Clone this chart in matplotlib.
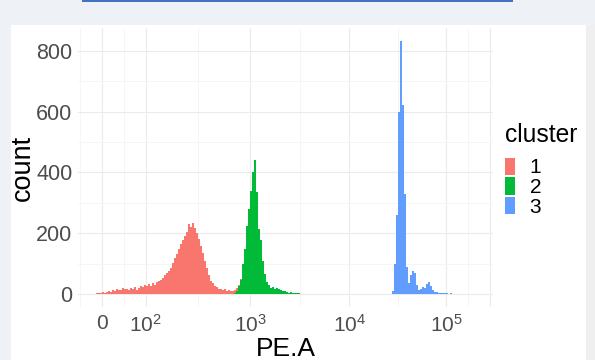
import numpy as np
import matplotlib
matplotlib.use("Agg")
import matplotlib.pyplot as plt
from matplotlib.patches import Rectangle, Patch

plt.rcParams['font.family'] = ['Liberation Sans', 'DejaVu Sans']
plt.rcParams['mathtext.fontset'] = 'custom'
plt.rcParams['mathtext.rm'] = 'Liberation Sans'

# ---- data: histogram counts on the transformed (biexponential) PE.A axis ----
BIN = 0.02                      # bin width in transformed units
RED_START, GREEN_START, BLUE_START = -0.06, 1.32, 2.58

red_counts = [3, 5, 4, 8, 6, 9, 12, 8, 15, 11, 19, 13, 14, 22, 16, 18, 13, 20,
              17, 23, 15, 21, 27, 24, 30, 26, 33, 29, 36, 31, 40, 44, 48, 55,
              62, 70, 76, 88, 104, 118, 131, 150, 165, 178, 192, 205, 232, 222,
              235, 218, 200, 180, 160, 135, 108, 85, 62, 45, 36, 28, 24, 18, 16,
              14, 17, 12, 14, 11, 12, 9, 8, 6, 4]
green_counts = [4, 12, 26, 48, 100, 150, 225, 280, 340, 400, 440, 335, 215,
                178, 110, 66, 40, 30, 22, 24, 19, 20, 16, 14, 12, 10, 8, 6, 7,
                5, 4, 3, 4, 2, 2, 1, 1, 0, 1, 0, 1, 0, 0, 1, 0, 1, 0, 1]
blue_counts = [0, 0, 1, 0, 0, 0, 1, 0, 1, 0, 0, 1, 0, 1, 0, 1,
               12, 100, 260, 600, 830, 620, 330, 90, 38, 64, 78, 70, 30, 14,
               18, 25, 22, 34, 41, 26, 14, 9, 7, 6, 4, 5, 3, 4, 2, 3, 2, 2, 1,
               2, 1, 1, 0, 1, 1, 0, 1]

clusters = ['1', '2', '3']
colors = ['#F8766D', '#00BA38', '#619CFF']

xtick_pos = [0.0, 0.44, 1.483, 2.476, 3.443, 3.883]
xtick_labels = ['0', r'$\mathregular{10^2}$', r'$\mathregular{10^3}$',
                r'$\mathregular{10^4}$', r'$\mathregular{10^5}$', '']
yticks = [0, 200, 400, 600, 800]

# ---- common bin grid + stacking (ggplot: group 1 on top) ---------------------
n = int(round((BLUE_START - RED_START) / BIN)) + len(blue_counts)
edges = RED_START + BIN * np.arange(n + 1)
grid = np.zeros((3, n))
for k, (start, cnt) in enumerate([(RED_START, red_counts),
                                  (GREEN_START, green_counts),
                                  (BLUE_START, blue_counts)]):
    i0 = int(round((start - RED_START) / BIN))
    grid[k, i0:i0 + len(cnt)] = cnt

fig = plt.figure(figsize=(5.95, 3.6), dpi=100, facecolor='#eef2f6')
W, H = 595, 360
fig.patches.append(Rectangle((11 / W, 0), 575 / W, 335 / H, transform=fig.transFigure,
                             facecolor='white', edgecolor='none', zorder=-10))
fig.patches.append(Rectangle((586 / W, 0), 9 / W, 335 / H, transform=fig.transFigure,
                             facecolor='#efefef', edgecolor='none', zorder=-10))
fig.patches.append(Rectangle((82 / W, 358 / H), 431 / W, 2 / H, transform=fig.transFigure,
                             facecolor='#4472c4', edgecolor='none', zorder=-10))

ax = fig.add_axes([78 / W, 53 / H, 415 / W, 279 / H])
ax.set_facecolor('none')

bottom = np.zeros(n)
for k in [2, 1, 0]:
    top = bottom + grid[k]
    ax.stairs(top, edges, baseline=bottom.copy(), fill=True,
              color=colors[k], linewidth=0, zorder=3)
    bottom = top

# grid lines (theme_minimal look)
xminor = [xtick_pos[0] - (xtick_pos[1] - xtick_pos[0]) / 2] + \
         list((np.array(xtick_pos[:-1]) + np.array(xtick_pos[1:])) / 2)
ax.set_xticks(xtick_pos)
ax.set_xticklabels(xtick_labels)
ax.set_xticks(xminor, minor=True)
ax.set_yticks(yticks)
ax.set_yticks([100, 300, 500, 700], minor=True)
ax.grid(True, which='major', color='#ebebeb', linewidth=0.8, zorder=0)
ax.grid(True, which='minor', color='#f4f4f4', linewidth=0.6, zorder=0)
ax.set_axisbelow(True)
ax.tick_params(which='both', length=0)
ax.tick_params(axis='y', labelsize=15.5, labelcolor='#4d4d4d', pad=4)
ax.tick_params(axis='x', labelsize=15, labelcolor='#4d4d4d', pad=5)
for s in ax.spines.values():
    s.set_visible(False)

ax.set_xlim(-0.237, 3.913)
ax.set_ylim(-41.5, 874)
ax.set_xlabel('PE.A', fontsize=19, va='baseline')
ax.xaxis.set_label_coords(0.5, -49 / 279)
ax.set_ylabel('count', fontsize=19.5, labelpad=0.5)

fig.text(505 / W, 1 - 142 / H, 'cluster', fontsize=17.7, va='baseline', ha='left')
handles = [Patch(facecolor=c, edgecolor='none') for c in colors]
leg = fig.legend(handles, clusters, loc='upper left',
                 bbox_to_anchor=(505 / W, 1 - 157.5 / H), frameon=False,
                 fontsize=15, borderpad=0, borderaxespad=0,
                 handlelength=0.48, handleheight=0.9, labelspacing=0,
                 handletextpad=0.7)

fig.savefig('out.png', dpi=100, facecolor=fig.get_facecolor())
